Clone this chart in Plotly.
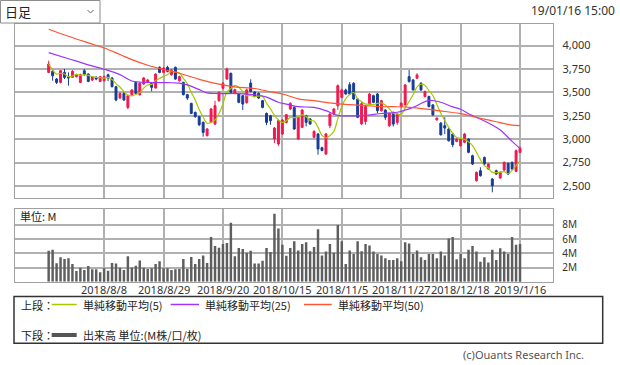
import pandas as pd
import plotly.graph_objects as go

# ---------------- data ----------------
holidays = ["2018-09-17", "2018-09-24", "2018-10-08", "2018-11-23", "2018-12-24",
            "2018-12-31", "2019-01-01", "2019-01-02", "2019-01-03", "2019-01-14"]
days = [d for d in pd.bdate_range("2018-07-19", "2019-01-16") if d.strftime("%Y-%m-%d") not in holidays]
dates = [f"{d.year}/{d.month}/{d.day}" for d in days]

opens = [3714, 3725, 3643, 3607, 3714, 3668, 3661, 3668, 3607, 3732,
         3696, 3632, 3661, 3618, 3625, 3689, 3654, 3561, 3440, 3490,
         3340, 3476, 3607, 3476, 3590, 3607, 3597, 3547, 3768, 3714,
         3768, 3689, 3768, 3625, 3607, 3476, 3383, 3287, 3241, 3180,
         3038, 3180, 3162, 3412, 3545, 3643, 3704, 3490, 3483, 3465,
         3390, 3600, 3505, 3490, 3412, 3276, 3251, 3002, 2949, 3056,
         3180, 3323, 3340, 3002, 3127, 3251, 3216, 3020, 3056, 2910,
         2842, 3145, 3269, 3358, 3447, 3526, 3583, 3597, 3430, 3165,
         3190, 3376, 3465, 3483, 3305, 3312, 3145, 3287, 3180, 3349,
         3367, 3669, 3634, 3652, 3598, 3456, 3456, 3367, 3207, 3172,
         3145, 3109, 3056, 2977, 2931, 2967, 3002, 2824, 2557, 2664,
         2806, 2682, 2575, 2664, 2586, 2671, 2742, 2753, 2657, 2860]
closes = [3803, 3678, 3607, 3732, 3661, 3654, 3725, 3689, 3689, 3689,
          3618, 3668, 3643, 3668, 3668, 3654, 3561, 3419, 3490, 3419,
          3465, 3526, 3490, 3597, 3654, 3632, 3554, 3696, 3714, 3761,
          3725, 3739, 3643, 3668, 3476, 3440, 3276, 3241, 3155, 3073,
          3109, 3323, 3358, 3501, 3598, 3750, 3501, 3530, 3394, 3376,
          3527, 3510, 3460, 3440, 3340, 3180, 3198, 3120, 3198, 3205,
          3262, 3383, 3109, 3234, 3312, 3180, 3162, 3084, 2896, 2880,
          3056, 3269, 3323, 3572, 3526, 3483, 3483, 3430, 3234, 3380,
          3350, 3483, 3394, 3305, 3412, 3234, 3276, 3162, 3269, 3385,
          3580, 3616, 3527, 3687, 3527, 3510, 3349, 3260, 3225, 3047,
          3120, 2984, 2942, 3002, 3002, 3056, 2860, 2735, 2646, 2611,
          2735, 2735, 2504, 2628, 2646, 2753, 2628, 2682, 2878, 2903]
highs = [3839, 3750, 3654, 3739, 3750, 3714, 3739, 3700, 3700, 3750,
         3705, 3675, 3675, 3675, 3680, 3700, 3665, 3570, 3500, 3505,
         3475, 3535, 3615, 3605, 3665, 3645, 3610, 3705, 3780, 3770,
         3785, 3750, 3775, 3680, 3615, 3485, 3390, 3295, 3250, 3190,
         3120, 3335, 3410, 3510, 3610, 3765, 3712, 3540, 3492, 3475,
         3540, 3640, 3515, 3500, 3420, 3285, 3260, 3130, 3210, 3215,
         3270, 3395, 3350, 3245, 3320, 3262, 3225, 3095, 3065, 2920,
         3065, 3280, 3335, 3585, 3540, 3540, 3610, 3610, 3440, 3395,
         3360, 3495, 3475, 3495, 3420, 3320, 3285, 3295, 3280, 3395,
         3590, 3740, 3640, 3705, 3610, 3520, 3465, 3375, 3235, 3185,
         3235, 3120, 3065, 3010, 3012, 3068, 3012, 2835, 2655, 2700,
         2815, 2745, 2585, 2675, 2655, 2762, 2752, 2762, 2890, 2925]
lows = [3707, 3625, 3590, 3597, 3643, 3572, 3654, 3660, 3600, 3680,
        3610, 3620, 3630, 3610, 3618, 3620, 3555, 3405, 3430, 3410,
        3320, 3465, 3480, 3465, 3580, 3600, 3512, 3540, 3705, 3705,
        3715, 3680, 3635, 3615, 3468, 3418, 3268, 3230, 3140, 3027,
        3030, 3170, 3150, 3400, 3535, 3635, 3495, 3480, 3385, 3312,
        3380, 3500, 3450, 3430, 3330, 3150, 3155, 2958, 2930, 3045,
        3170, 3315, 3100, 2995, 3118, 3136, 3155, 3012, 2834, 2870,
        2834, 3118, 3260, 3314, 3440, 3475, 3475, 3420, 3225, 3150,
        3155, 3365, 3385, 3278, 3295, 3207, 3130, 3136, 3154, 3340,
        3360, 3605, 3520, 3645, 3515, 3446, 3340, 3250, 3200, 3040,
        3055, 2975, 2915, 2968, 2922, 2958, 2850, 2725, 2548, 2600,
        2725, 2672, 2433, 2618, 2578, 2662, 2618, 2672, 2648, 2852]
volume_m = [4.35, 4.5, 2.6, 3.45, 3.2, 3.3, 2.5, 1.5, 1.95, 1.65,
            2.2, 1.75, 1.75, 1.35, 1.9, 1.55, 2.65, 2.55, 1.95, 1.65,
            3.6, 2.0, 2.25, 3.0, 1.95, 1.8, 1.9, 2.5, 2.9, 1.9,
            1.9, 1.65, 1.75, 1.8, 3.2, 1.8, 3.5, 2.5, 3.2, 3.7,
            2.65, 6.3, 5.05, 4.8, 5.3, 5.45, 8.3, 3.6, 4.75, 4.6,
            4.1, 4.35, 2.55, 2.55, 2.95, 4.75, 4.2, 9.6, 7.5, 5.2,
            3.65, 4.75, 5.7, 4.4, 5.3, 5.55, 4.3, 4.9, 7.4, 3.7,
            4.25, 5.3, 4.1, 8.0, 5.7, 2.5, 4.4, 3.9, 5.7, 4.3,
            5.3, 5.1, 4.25, 3.9, 3.7, 3.3, 3.07, 3.07, 3.3, 2.9,
            5.57, 5.4, 3.9, 4.4, 3.44, 3.07, 3.9, 3.9, 3.3, 4.25,
            3.7, 6.1, 6.3, 3.16, 3.9, 3.3, 4.5, 5.05, 4.25, 2.8,
            3.44, 2.7, 4.5, 3.07, 4.7, 4.25, 3.9, 6.3, 5.2, 5.3]

# moving averages 25 / 50 at sample sessions (index, value)
ma25_idx = [0, 5, 10, 14, 18, 21, 25, 30, 33, 35, 38, 40, 43, 48, 52, 55, 58, 60, 63, 67,
            70, 73, 77, 80, 84, 88, 92, 96, 99, 102, 104, 106, 110, 114, 117, 119]
ma25_val = [3925, 3860, 3795, 3748, 3690, 3622, 3607, 3604, 3600, 3580, 3530, 3495, 3488, 3488,
            3475, 3450, 3395, 3375, 3348, 3340, 3305, 3255, 3250, 3255, 3275, 3288, 3340, 3415,
            3395, 3345, 3320, 3272, 3195, 3098, 2977, 2900]
ma50_idx = [0, 5, 10, 14, 18, 21, 25, 29, 33, 38, 43, 47, 52, 55, 59, 63, 67, 72, 76, 80,
            84, 88, 92, 96, 100, 104, 107, 110, 114, 117, 119]
ma50_val = [4175, 4100, 4030, 3975, 3905, 3850, 3790, 3745, 3705, 3640, 3588, 3560, 3542, 3515,
            3483, 3432, 3412, 3382, 3370, 3360, 3348, 3347, 3338, 3320, 3296, 3274, 3245, 3214,
            3178, 3150, 3145]

tick_labels = ["2018/8/8", "2018/8/29", "2018/9/20", "2018/10/15",
               "2018/11/5", "2018/11/27", "2018/12/18", "2019/1/16"]
price_ticks = [2500, 2750, 3000, 3250, 3500, 3750, 4000]
vol_ticks = [2, 4, 6, 8]

# ---------------- figure ----------------
W, H = 620, 365
def px(x): return x / W
def py(y): return 1 - y / H

RED, BLUE = "#f4174d", "#173c96"
C5, C25, C50 = "#a6c800", "#9a34ff", "#ff5530"
GRID = "#b0b0b0"
FONT = "Noto Sans CJK JP"
NUMFONT = "Noto Sans"

ma5 = pd.Series(closes).rolling(5, min_periods=1).mean().tolist()

fig = go.Figure()
fig.add_trace(go.Candlestick(
    x=dates, open=opens, high=highs, low=lows, close=closes,
    increasing=dict(line=dict(color=RED, width=1), fillcolor=RED),
    decreasing=dict(line=dict(color=BLUE, width=1), fillcolor=BLUE),
    whiskerwidth=0, xaxis="x", yaxis="y", showlegend=False, hoverinfo="skip"))
fig.add_trace(go.Scatter(x=dates, y=ma5, mode="lines", line=dict(color=C5, width=1.2, shape="spline"),
                         xaxis="x", yaxis="y", showlegend=False, hoverinfo="skip"))
fig.add_trace(go.Scatter(x=[dates[i] for i in ma25_idx], y=ma25_val, mode="lines",
                         line=dict(color=C25, width=1.2, shape="spline"),
                         xaxis="x", yaxis="y", showlegend=False, hoverinfo="skip"))
fig.add_trace(go.Scatter(x=[dates[i] for i in ma50_idx], y=ma50_val, mode="lines",
                         line=dict(color=C50, width=1.2, shape="spline"),
                         xaxis="x", yaxis="y", showlegend=False, hoverinfo="skip"))
fig.add_trace(go.Bar(x=dates, y=[v * 1e6 for v in volume_m], marker=dict(color="#5e5e5e", line=dict(width=0)),
                     width=0.62, xaxis="x2", yaxis="y2", showlegend=False, hoverinfo="skip"))

xdom = [px(15), px(553.3)]
xr = [-8.5, 127.4]
common_x = dict(type="category", range=xr, domain=xdom, showgrid=True, gridcolor=GRID, gridwidth=1.5,
                tickvals=tick_labels, showline=True, mirror=True, linecolor="#a0a0a0", linewidth=1,
                zeroline=False, fixedrange=True, automargin=False, showticklabels=False, ticks="")
common_y = dict(side="right", showgrid=True, gridcolor=GRID, gridwidth=1.5, ticks="outside", ticklen=6,
                tickcolor="rgba(0,0,0,0)", showline=True, mirror=True, linecolor="#a0a0a0",
                zeroline=False, fixedrange=True, automargin=False)
fig.update_layout(
    width=W, height=H, margin=dict(l=0, r=0, t=0, b=0, autoexpand=False),
    paper_bgcolor="white", plot_bgcolor="white",
    font=dict(family=FONT, size=11, color="#333333"),
    xaxis=dict(common_x, anchor="y", rangeslider=dict(visible=False)),
    xaxis2=dict(common_x, anchor="y2", matches="x"),
    yaxis=dict(common_y, domain=[py(198.3), py(24)], range=[2369, 4231], anchor="x",
               tickvals=price_ticks, ticktext=[f"{v:,}" for v in price_ticks],
               tickfont=dict(family=NUMFONT, size=11, color="#333333")),
    yaxis2=dict(common_y, domain=[py(281.7), py(209.3)], range=[0, 10.21e6], anchor="x2",
                tickvals=[v * 1e6 for v in vol_ticks], ticktext=[f"{v}M" for v in vol_ticks],
                tickfont=dict(family=NUMFONT, size=10, color="#333333")),
)

shapes = []
annos = []
# date labels under the volume panel, placed on the x2 category scale
for lbl in tick_labels:
    annos.append(dict(text=lbl, x=lbl, xref="x2", y=py(289), yref="paper", xanchor="center",
                      yanchor="middle", showarrow=False, font=dict(family=NUMFONT, size=11, color="#333333")))
# header dropdown
shapes.append(dict(type="rect", xref="paper", yref="paper", x0=px(0.5), x1=px(100), y0=py(23), y1=py(0.5),
                   line=dict(color="#8c8c8c", width=1), fillcolor="white"))
shapes.append(dict(type="path", xref="paper", yref="paper",
                   path=f"M {px(87.5)} {py(10)} L {px(90.5)} {py(13)} L {px(93.5)} {py(10)}",
                   line=dict(color="#666666", width=1)))
annos.append(dict(text="日足", x=px(3), y=py(12), xref="paper", yref="paper", xanchor="left", yanchor="middle",
                  showarrow=False, font=dict(size=13, color="#222222")))
annos.append(dict(text="19/01/16 15:00", x=px(617), y=py(11), xref="paper", yref="paper", xanchor="right",
                  yanchor="middle", showarrow=False, font=dict(family=NUMFONT, size=12, color="#333333")))
annos.append(dict(text="単位: M", x=px(18), y=py(216), xref="paper", yref="paper", xanchor="left",
                  yanchor="middle", showarrow=False, font=dict(size=11, color="#222222")))
# legend box
shapes.append(dict(type="rect", xref="paper", yref="paper", x0=px(14), x1=px(602.7), y0=py(343.3), y1=py(296.5),
                   line=dict(color="#333333", width=1.5)))
row1, row2 = 304.5, 335
annos.append(dict(text="上段：", x=px(19), y=py(row1), xref="paper", yref="paper", xanchor="left",
                  yanchor="middle", showarrow=False, font=dict(size=11, color="#222222")))
annos.append(dict(text="下段：", x=px(19), y=py(row2), xref="paper", yref="paper", xanchor="left",
                  yanchor="middle", showarrow=False, font=dict(size=11, color="#222222")))
for x0, x1, col, lbl in [(51.7, 76.7, C5, "単純移動平均(5)"), (170.7, 199, C25, "単純移動平均(25)"),
                         (304, 331.7, C50, "単純移動平均(50)")]:
    shapes.append(dict(type="line", xref="paper", yref="paper", x0=px(x0), x1=px(x1), y0=py(row1), y1=py(row1),
                       line=dict(color=col, width=1.5)))
    annos.append(dict(text=lbl, x=px(x1 + 4), y=py(row1), xref="paper", yref="paper", xanchor="left",
                      yanchor="middle", showarrow=False, font=dict(size=11, color="#222222")))
shapes.append(dict(type="line", xref="paper", yref="paper", x0=px(51.7), x1=px(76.7), y0=py(row2), y1=py(row2),
                   line=dict(color="#555555", width=4)))
annos.append(dict(text="出来高 単位:(M株/口/枚)", x=px(80.7), y=py(row2), xref="paper", yref="paper",
                  xanchor="left", yanchor="middle", showarrow=False, font=dict(size=11, color="#222222")))
annos.append(dict(text="(c)Ouants Research Inc.", x=px(586), y=py(354), xref="paper", yref="paper",
                  xanchor="right", yanchor="middle", showarrow=False, font=dict(family=NUMFONT, size=11, color="#555555")))

fig.update_layout(shapes=shapes, annotations=annos)
fig.write_html("out.html", config={"displayModeBar": False},
               post_script="document.body.style.margin='0';document.body.style.padding='0';")
